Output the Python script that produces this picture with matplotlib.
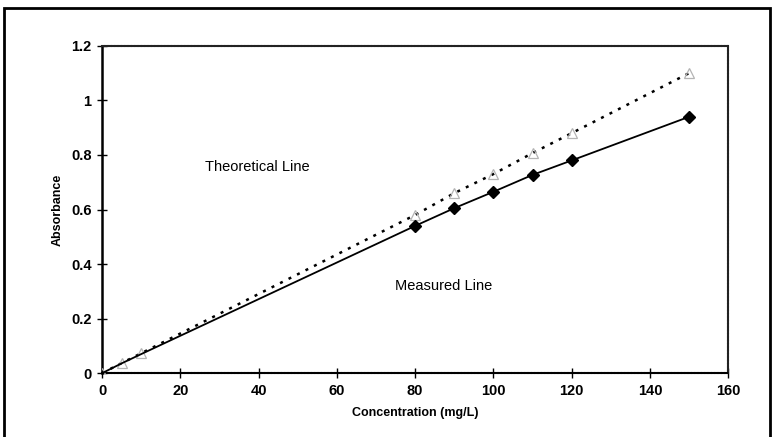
import matplotlib
matplotlib.use('Agg')
import matplotlib.pyplot as plt
from matplotlib.patches import Rectangle

plt.rcParams['font.family'] = ['Liberation Sans', 'DejaVu Sans']

# concentration (mg/L) and absorbance readings
conc = [0, 5, 10, 80, 90, 100, 110, 120, 150]
measured = [0, 0.036, 0.07, 0.54, 0.605, 0.665, 0.727, 0.78, 0.94]
theoretical = [0, 0.037, 0.073, 0.58, 0.66, 0.73, 0.807, 0.88, 1.10]

fig = plt.figure(figsize=(7.73, 4.37), dpi=100)
ax = fig.add_axes([0.132, 0.146, 0.810, 0.749])

# outer frame round the whole chart
fig.patches.append(Rectangle((4 / 773, -0.05), 766 / 773, 1.05 - 8 / 437,
                             transform=fig.transFigure, fill=False,
                             edgecolor='black', linewidth=2.0))

ax.plot(conc, theoretical, linestyle=(0, (1.2, 2.6)), color='black', linewidth=1.8,
        marker='^', markersize=7, markerfacecolor='none',
        markeredgecolor='#b4b4b4', markeredgewidth=0.9, zorder=3)
ax.plot(conc, measured, linestyle='-', color='black', linewidth=1.3,
        marker='D', markersize=6, markevery=[3, 4, 5, 6, 7, 8],
        markerfacecolor='black', markeredgecolor='black', zorder=4)

ax.text(39.6, 0.755, 'Theoretical Line', ha='center', va='center', fontsize=10.5)
ax.text(87.2, 0.32, 'Measured Line', ha='center', va='center', fontsize=10.5)

ax.set_xlim(0, 160)
ax.set_ylim(0, 1.2)
ax.set_xticks([0, 20, 40, 60, 80, 100, 120, 140, 160])
ax.set_yticks([0, 0.2, 0.4, 0.6, 0.8, 1.0, 1.2])
ax.set_yticklabels(['0', '0.2', '0.4', '0.6', '0.8', '1', '1.2'])
ax.tick_params(direction='inout', length=7, width=1, labelsize=10.5, pad=4)
for lab in ax.get_xticklabels() + ax.get_yticklabels():
    lab.set_fontweight('bold')

ax.spines['left'].set_linewidth(1.8)
ax.spines['bottom'].set_linewidth(1.5)
ax.spines['bottom'].set_linestyle((0, (1, 0.6)))
for s in ['top', 'right']:
    ax.spines[s].set_linewidth(1.5)
    ax.spines[s].set_linestyle((0, (1, 0.6)))
    ax.spines[s].set_color('#222222')

ax.set_xlabel('Concentration (mg/L)', fontsize=9, fontweight='bold', labelpad=7)
ax.set_ylabel('Absorbance', fontsize=9, fontweight='bold', labelpad=5)

fig.savefig('out.png', dpi=100)
